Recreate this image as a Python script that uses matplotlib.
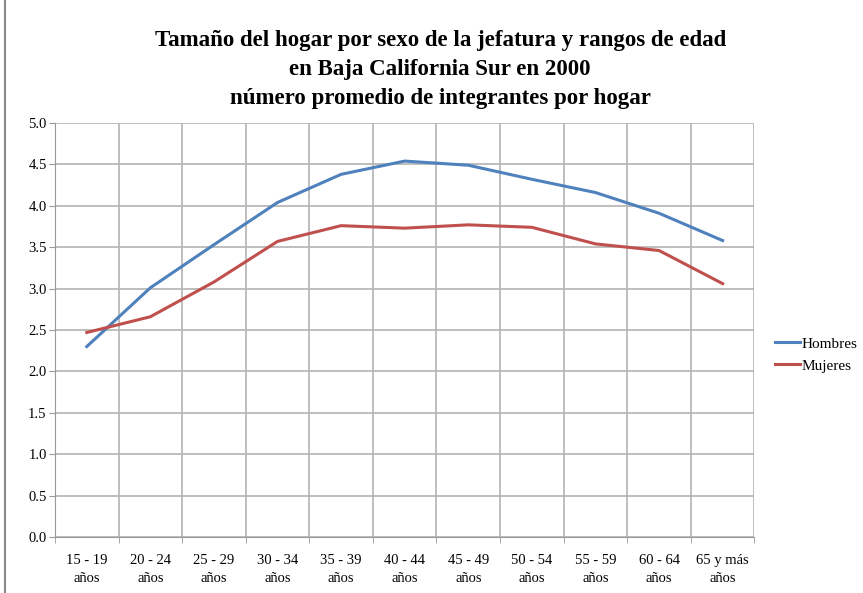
import matplotlib
matplotlib.use("Agg")
import matplotlib.pyplot as plt
from matplotlib.patches import Rectangle
import numpy as np

plt.rcParams['font.family'] = ['Liberation Serif', 'DejaVu Serif']

# age ranges of the head of household
categorias = ["15 - 19\naños", "20 - 24\naños", "25 - 29\naños", "30 - 34\naños",
              "35 - 39\naños", "40 - 44\naños", "45 - 49\naños", "50 - 54\naños",
              "55 - 59\naños", "60 - 64\naños", "65 y más\naños"]
hombres = [2.30, 3.01, 3.53, 4.04, 4.38, 4.54, 4.49, 4.32, 4.16, 3.91, 3.58]
mujeres = [2.47, 2.66, 3.08, 3.57, 3.76, 3.73, 3.77, 3.74, 3.54, 3.46, 3.06]
y_ticks = [0.0, 0.5, 1.0, 1.5, 2.0, 2.5, 3.0, 3.5, 4.0, 4.5, 5.0]

titulo = ("Tamaño del hogar por sexo de la jefatura y rangos de edad\n"
          "en Baja California Sur en 2000\n"
          "número promedio de integrantes por hogar")

fig = plt.figure(figsize=(8.63, 5.93), dpi=100)
ax = fig.add_axes([0.0637, 0.0944, 0.8105, 0.6982])

x = np.arange(len(categorias))
ax.plot(x, hombres, color='#4f81bd', lw=2.2, label='Hombres')
ax.plot(x, mujeres, color='#c0504d', lw=2.2, label='Mujeres')

ax.set_xlim(-0.5, len(categorias) - 0.5)
ax.set_ylim(0, 5)
ax.set_yticks(y_ticks)
ax.set_yticklabels([f"{v:.1f}" for v in y_ticks], fontsize=10.5)
ax.set_xticks(x)
ax.set_xticklabels(categorias, fontsize=10.5, linespacing=1.5)
ax.set_xticks(np.arange(-0.5, len(categorias)), minor=True)

ax.grid(axis='y', color='#b3b3b3', lw=1.2)
ax.grid(axis='x', which='minor', color='#b3b3b3', lw=1.2)
ax.tick_params(axis='x', which='major', length=0, pad=12)
ax.tick_params(axis='x', which='minor', length=4, color='#999999')
ax.tick_params(axis='y', length=4, color='#999999', pad=2)
ax.set_axisbelow(True)
for s in ['top', 'right']:
    ax.spines[s].set_visible(False)
for s in ['left', 'bottom']:
    ax.spines[s].set_color('#999999')

ax.legend(loc='center left', bbox_to_anchor=(1.01, 0.44), frameon=False,
          fontsize=11, handlelength=1.6, handletextpad=0.1, labelspacing=0.55)

fig.text(0.51, 0.95, titulo, ha='center', va='top', fontsize=16.5,
         fontweight='bold', linespacing=1.52)

fig.patches.append(Rectangle((0.006, -0.01), 1.2, 1.2, transform=fig.transFigure,
                             fill=False, edgecolor='#888888', lw=1.5))

fig.savefig("out.png", dpi=100)
